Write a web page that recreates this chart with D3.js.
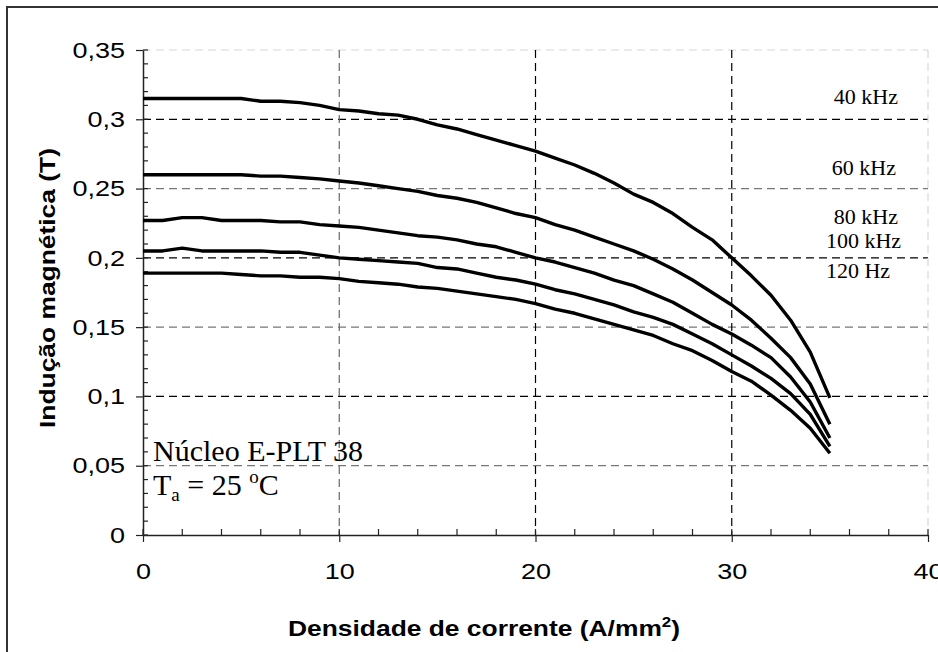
<!DOCTYPE html>
<html>
<head>
<meta charset="utf-8">
<script src="https://cdn.jsdelivr.net/npm/d3@7"></script>
<style>
  body { margin: 0; background: #fff; }
  svg { display: block; }
</style>
</head>
<body>
<div id="chart"></div>
<script>
// data (x = current density A/mm2, y = induction T)
const density = d3.range(0, 36);

const b40k  = [0.315,0.315,0.315,0.315,0.315,0.315,0.313,0.313,0.312,0.310,0.307,0.306,0.304,0.303,0.300,0.296,0.293,0.289,0.285,0.281,0.277,0.272,0.267,0.261,0.254,0.246,0.240,0.232,0.222,0.213,0.200,0.187,0.173,0.155,0.132,0.099];
const b60k  = [0.260,0.260,0.260,0.260,0.260,0.260,0.259,0.259,0.258,0.257,0.2555,0.254,0.252,0.250,0.248,0.245,0.243,0.240,0.236,0.232,0.229,0.224,0.220,0.215,0.210,0.205,0.199,0.192,0.184,0.175,0.166,0.155,0.142,0.128,0.109,0.080];
const b80k  = [0.227,0.227,0.229,0.229,0.227,0.227,0.227,0.226,0.226,0.224,0.223,0.222,0.220,0.218,0.216,0.215,0.213,0.210,0.208,0.204,0.200,0.197,0.193,0.189,0.184,0.180,0.174,0.168,0.160,0.152,0.145,0.137,0.128,0.114,0.096,0.070];
const b100k = [0.205,0.205,0.207,0.205,0.205,0.205,0.205,0.204,0.204,0.202,0.200,0.199,0.198,0.197,0.196,0.193,0.192,0.189,0.186,0.184,0.181,0.177,0.174,0.170,0.166,0.161,0.157,0.152,0.145,0.138,0.130,0.122,0.113,0.102,0.087,0.064];
const b120  = [0.189,0.189,0.189,0.189,0.189,0.188,0.187,0.187,0.186,0.186,0.185,0.183,0.182,0.181,0.179,0.178,0.176,0.174,0.172,0.170,0.167,0.163,0.160,0.156,0.152,0.148,0.144,0.138,0.133,0.126,0.118,0.111,0.101,0.090,0.077,0.059];

const seriesNames = ["40 kHz", "60 kHz", "80 kHz", "100 kHz", "120 Hz"];
const seriesValues = [b40k, b60k, b80k, b100k, b120];
// where each name sits, in data units
const labelX = [35.2, 35.1, 35.2, 34.8, 34.8];
const labelY = [0.311, 0.260, 0.2244, 0.2071, 0.1855];

const xTicks = [0, 10, 20, 30, 40];
const xTickLabels = ["0", "10", "20", "30", "40"];
const yTicks = [0, 0.05, 0.1, 0.15, 0.2, 0.25, 0.3, 0.35];
const yTickLabels = ["0", "0,05", "0,1", "0,15", "0,2", "0,25", "0,3", "0,35"];
// the gridlines in the original are not all the same grey
const yGridColor = ["none", "#777", "#000", "#777", "#000", "#777", "#000", "#d8d8d8"];
const xGridColor = ["none", "#666", "#000", "#000", "#d8d8d8"];

const W = 938, H = 652;
const sans = "'Liberation Sans', Arial, sans-serif";
const serif = "'Liberation Serif', 'Times New Roman', serif";
const stretch = 1.2; // the sans text in the original is drawn wide

const x = d3.scaleLinear().domain([0, 40]).range([143, 928]);
const y = d3.scaleLinear().domain([0, 0.35]).range([535, 50]);

const svg = d3.select("#chart")
  .append("svg")
  .attr("width", W)
  .attr("height", H);

// outer frame (runs off the right and bottom edges)
svg.append("rect")
  .attr("x", 7).attr("y", 7)
  .attr("width", 1000).attr("height", 700)
  .attr("fill", "none")
  .attr("stroke", "#333")
  .attr("stroke-width", 2);

// horizontal gridlines
svg.selectAll(".ygrid")
  .data(yTicks.slice(1))
  .join("line")
  .attr("class", "ygrid")
  .attr("x1", x(0)).attr("x2", x(40))
  .attr("y1", d => y(d)).attr("y2", d => y(d))
  .attr("stroke", (d, i) => yGridColor[i + 1])
  .attr("stroke-width", 1.2)
  .attr("stroke-dasharray", "8,5");

// vertical gridlines
svg.selectAll(".xgrid")
  .data(xTicks.slice(1))
  .join("line")
  .attr("class", "xgrid")
  .attr("x1", d => x(d)).attr("x2", d => x(d))
  .attr("y1", y(0.35)).attr("y2", y(0))
  .attr("stroke", (d, i) => xGridColor[i + 1])
  .attr("stroke-width", 1.2)
  .attr("stroke-dasharray", "8,5");

// y axis: major ticks outside, minor ticks inside
const yAxis = svg.append("g")
  .attr("transform", `translate(${x(0)},0)`)
  .call(d3.axisLeft(y)
    .tickValues(yTicks)
    .tickFormat((d, i) => yTickLabels[i])
    .tickSize(7)
    .tickSizeOuter(0));
yAxis.select(".domain").attr("stroke", "#222").attr("stroke-width", 1.5);
yAxis.selectAll(".tick line").attr("stroke", "#222").attr("stroke-width", 1.2);
yAxis.selectAll(".tick text")
  .attr("fill", "#000")
  .attr("x", -18 / stretch)
  .attr("transform", `scale(${stretch},1)`)
  .style("font-family", sans)
  .style("font-size", "22.5px");

svg.append("g")
  .selectAll("line")
  .data(d3.range(0, 36).map(d => d / 100))
  .join("line")
  .attr("x1", x(0)).attr("x2", x(0) + 5)
  .attr("y1", d => y(d)).attr("y2", d => y(d))
  .attr("stroke", "#222")
  .attr("stroke-width", 1.2);

// x axis
const xAxis = svg.append("g")
  .attr("transform", `translate(0,${y(0)})`)
  .call(d3.axisBottom(x)
    .tickValues(xTicks)
    .tickFormat((d, i) => xTickLabels[i])
    .tickSize(7)
    .tickSizeOuter(0)
    .tickPadding(21));
xAxis.select(".domain").attr("stroke", "#222").attr("stroke-width", 1.5);
xAxis.selectAll(".tick line").attr("stroke", "#222").attr("stroke-width", 1.2);
xAxis.selectAll(".tick text")
  .attr("fill", "#000")
  .attr("transform", `scale(${stretch},1)`)
  .style("font-family", sans)
  .style("font-size", "22.5px");

svg.append("g")
  .selectAll("line")
  .data(d3.range(0, 41, 2))
  .join("line")
  .attr("x1", d => x(d)).attr("x2", d => x(d))
  .attr("y1", y(0)).attr("y2", y(0) - 6)
  .attr("stroke", "#222")
  .attr("stroke-width", 1.2);

// curves
const line = d3.line()
  .x((d, i) => x(density[i]))
  .y(d => y(d));

svg.selectAll(".curve")
  .data(seriesValues)
  .join("path")
  .attr("class", "curve")
  .attr("fill", "none")
  .attr("stroke", "#000")
  .attr("stroke-width", 3.4)
  .attr("stroke-linejoin", "round")
  .attr("d", line);

// curve names
svg.selectAll(".curve-label")
  .data(seriesNames)
  .join("text")
  .attr("class", "curve-label")
  .attr("x", (d, i) => x(labelX[i]))
  .attr("y", (d, i) => y(labelY[i]))
  .style("font-family", serif)
  .style("font-size", "22px")
  .attr("fill", "#000")
  .text(d => d);

// note in the lower left
const note = svg.append("g")
  .style("font-family", serif)
  .style("font-size", "30px")
  .attr("fill", "#000");

note.append("text")
  .attr("x", 153).attr("y", 461)
  .text("Núcleo E-PLT 38");

const t2 = note.append("text")
  .attr("x", 153).attr("y", 495);
t2.append("tspan").text("T");
t2.append("tspan").attr("dy", 6).style("font-size", "19px").text("a");
t2.append("tspan").attr("dy", -6).text(" = 25 ");
t2.append("tspan").attr("dy", -12).style("font-size", "19px").text("o");
t2.append("tspan").attr("dy", 12).text("C");

// axis titles
svg.append("text")
  .attr("transform", `translate(484,636) scale(${stretch},1)`)
  .attr("text-anchor", "middle")
  .style("font-family", sans)
  .style("font-size", "22px")
  .style("font-weight", "bold")
  .attr("fill", "#000")
  .call(t => {
    t.append("tspan").text("Densidade de corrente (A/mm");
    t.append("tspan").attr("dy", -9).style("font-size", "14px").text("2");
    t.append("tspan").attr("dy", 9).text(")");
  });

svg.append("text")
  .attr("transform", `translate(55,288) rotate(-90) scale(${stretch},1)`)
  .attr("text-anchor", "middle")
  .style("font-family", sans)
  .style("font-size", "22px")
  .style("font-weight", "bold")
  .attr("fill", "#000")
  .text("Indução magnética (T)");
</script>
</body>
</html>
